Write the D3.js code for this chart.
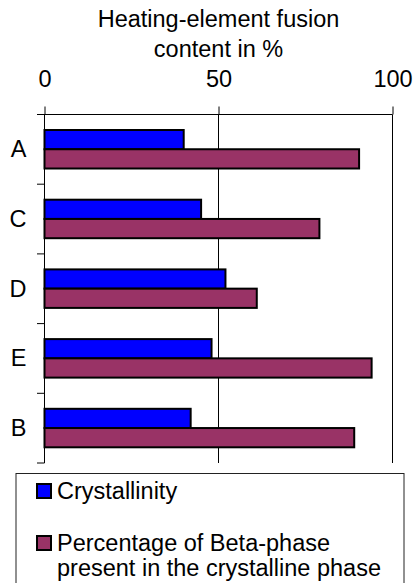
<!DOCTYPE html>
<html>
<head>
<meta charset="utf-8">
<script src="https://cdn.jsdelivr.net/npm/d3@7"></script>
<style>
  html, body { margin: 0; padding: 0; background: #fff; }
  svg { display: block; }
  text { font-family: "Liberation Sans", Arial, Helvetica, sans-serif; fill: #000; }
</style>
</head>
<body>
<svg id="chart" width="414" height="583"></svg>
<script>
// Samples, top to bottom
const categories = ["A", "C", "D", "E", "B"];
// Crystallinity (%)
const crystallinity = [40, 45, 52, 48, 42];
// Share of beta-phase within the crystalline phase (%)
const betaPhase = [90.4, 79, 61, 94, 89];
const seriesNames = ["Crystallinity", "Percentage of Beta-phase present in the crystalline phase"];
const seriesColors = ["#0000ff", "#993366"];
const tickValues = [0, 50, 100];
const axisTitle = ["Heating-element fusion", "content in %"];

const FONT = 23.5;

const svg = d3.select("#chart");

const x = d3.scaleLinear().domain([0, 100]).range([44.5, 392.5]);
const y0 = d3.scaleBand().domain(categories).range([114.5, 463]).padding(0);
const y1 = d3.scaleBand().domain([0, 1]).range([15.5, 54]).padding(0);

function label(g, str, tx, ty, anchor) {
  return g.append("text")
    .attr("x", tx).attr("y", ty)
    .attr("text-anchor", anchor)
    .attr("font-size", FONT)
    .text(str);
}

// axis title
axisTitle.forEach((t, i) => label(svg, t, x(50), 26.5 + i * 30.8, "middle"));

// top value axis
const topAxis = svg.append("g")
  .attr("transform", `translate(0,${y0.range()[0]})`)
  .call(d3.axisTop(x).tickValues(tickValues).tickSize(8).tickPadding(19.5));
topAxis.attr("font-family", null).attr("font-size", null);
topAxis.select(".domain").remove();
topAxis.selectAll("line").attr("stroke", "#000");
topAxis.selectAll("text").attr("font-size", FONT);

// vertical grid lines (and the category axis line at 0)
svg.append("g").selectAll("line")
  .data(tickValues)
  .join("line")
  .attr("x1", d => x(d)).attr("x2", d => x(d))
  .attr("y1", y0.range()[0]).attr("y2", y0.range()[1])
  .attr("stroke", "#000").attr("stroke-width", 1);

// band boundary ticks on the category axis, plus the top line
const edges = categories.map(c => y0(c)).concat([y0.range()[1]]);
svg.append("g").selectAll("line")
  .data(edges)
  .join("line")
  .attr("x1", x(0) - 7.5).attr("x2", x(0))
  .attr("y1", d => d).attr("y2", d => d)
  .attr("stroke", "#000").attr("stroke-width", 1);
svg.append("line")
  .attr("x1", x(0) - 7.5).attr("x2", x(100))
  .attr("y1", y0.range()[0]).attr("y2", y0.range()[0])
  .attr("stroke", "#000");

// category labels
categories.forEach(c => label(svg, c, 26.5, y0(c) + y0.bandwidth() / 2 + 8, "end"));

// bars
const rows = categories.map((c, i) => ({ cat: c, vals: [crystallinity[i], betaPhase[i]] }));
const groups = svg.append("g").selectAll("g")
  .data(rows)
  .join("g")
  .attr("transform", d => `translate(0,${y0(d.cat)})`);
groups.selectAll("rect")
  .data(d => d.vals.map((v, k) => ({ v, k })))
  .join("rect")
  .attr("x", x(0))
  .attr("y", d => y1(d.k))
  .attr("width", d => x(d.v) - x(0))
  .attr("height", y1.bandwidth())
  .attr("fill", d => seriesColors[d.k])
  .attr("stroke", "#000")
  .attr("stroke-width", 2);

// legend
const legend = svg.append("g");
legend.append("rect")
  .attr("x", 16).attr("y", 473.5)
  .attr("width", 388).attr("height", 140)
  .attr("fill", "#fff").attr("stroke", "#222").attr("stroke-width", 1);

const legendRows = [
  { lines: ["Crystallinity"], top: 484 },
  { lines: ["Percentage of Beta-phase", "present in the crystalline phase"], top: 536 }
];
legendRows.forEach((r, i) => {
  legend.append("rect")
    .attr("x", 37).attr("y", r.top)
    .attr("width", 14).attr("height", 14)
    .attr("fill", seriesColors[i])
    .attr("stroke", "#000").attr("stroke-width", 2);
  r.lines.forEach((t, j) => label(legend, t, 57, r.top + 15 + j * 24.5, "start"));
});
</script>
</body>
</html>
